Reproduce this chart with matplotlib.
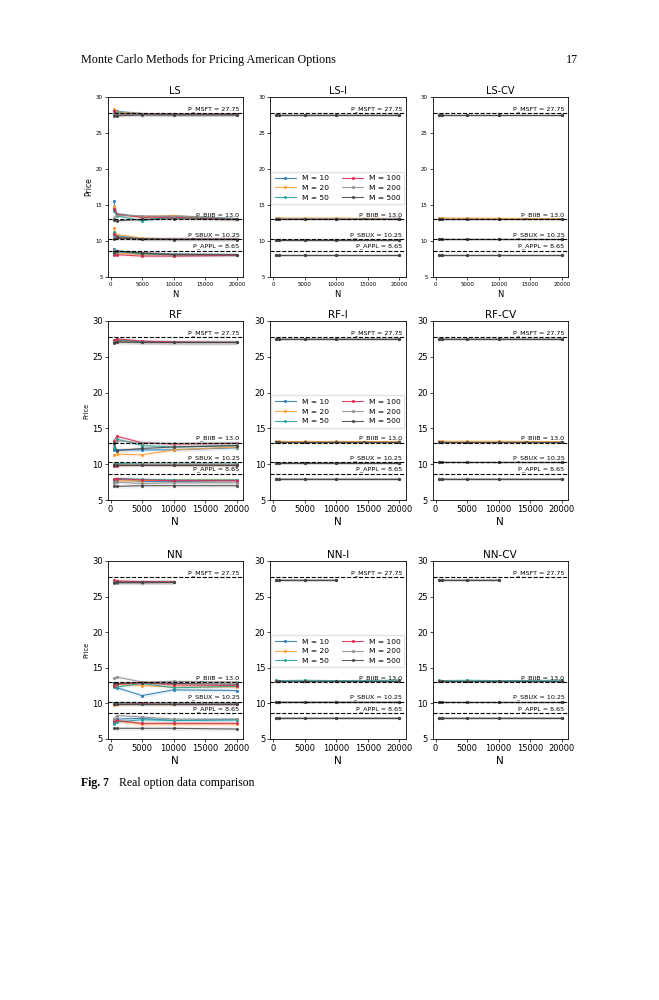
import matplotlib.pyplot as plt
import matplotlib.transforms as mtransforms
import numpy as np

nan = np.nan

N = [500, 1000, 5000, 10000, 20000]
M_values = [10, 20, 50, 100, 200, 500]
stocks = ['MSFT', 'BIIB', 'SBUX', 'APPL']
stock_prices = [27.75, 13.0, 10.25, 8.65]
titles = [['LS', 'LS-I', 'LS-CV'], ['RF', 'RF-I', 'RF-CV'], ['NN', 'NN-I', 'NN-CV']]

# one list per M (10, 20, 50, 100, 200, 500), values at each N
ls = {
    'MSFT': [[28.2, 28.0, 27.7, 27.6, 27.6], [28.3, 27.9, 27.7, 27.6, 27.6],
             [28.0, 27.8, 27.6, 27.6, 27.6], [28.1, 27.6, 27.6, 27.6, 27.6],
             [27.6, 27.5, 27.6, 27.5, 27.5], [27.4, 27.4, 27.5, 27.5, 27.5]],
    'BIIB': [[15.5, 13.8, 13.3, 13.5, 13.1], [14.8, 13.6, 13.4, 13.5, 13.0],
             [14.2, 13.5, 12.8, 13.4, 13.0], [14.5, 13.7, 13.3, 13.3, 13.0],
             [13.2, 13.6, 13.5, 13.4, 13.1], [12.9, 12.8, 13.0, 13.1, 13.0]],
    'SBUX': [[10.8, 10.6, 10.3, 10.3, 10.3], [11.8, 10.9, 10.4, 10.3, 10.3],
             [11.2, 10.7, 10.3, 10.3, 10.25], [11.0, 10.5, 10.3, 10.3, 10.25],
             [10.4, 10.4, 10.3, 10.3, 10.3], [10.3, 10.4, 10.3, 10.2, 10.2]],
    'APPL': [[8.9, 8.6, 8.3, 8.2, 8.1], [8.4, 8.3, 8.1, 8.1, 8.1],
             [8.2, 8.5, 8.2, 8.1, 8.1], [8.0, 8.1, 7.9, 7.9, 8.0],
             [8.7, 8.6, 8.4, 8.2, 8.1], [8.5, 8.6, 8.3, 8.1, 8.1]],
}
ls_i = {
    'MSFT': [[27.5, 27.5, 27.5, 27.5, 27.5]] * 4 + [[27.45, 27.45, 27.45, 27.45, 27.45]] * 2,
    'BIIB': [[13.1, 13.1, 13.1, 13.1, 13.1], [13.25, 13.2, 13.2, 13.2, 13.1],
             [13.1, 13.1, 13.1, 13.1, 13.1], [13.1, 13.1, 13.1, 13.1, 13.1],
             [13.1, 13.1, 13.1, 13.1, 13.15], [13.1, 13.1, 13.1, 13.1, 13.1]],
    'SBUX': [[10.2, 10.2, 10.2, 10.2, 10.2]] * 6,
    'APPL': [[8.0, 8.0, 8.0, 8.0, 8.0]] * 6,
}
ls_cv = {
    'MSFT': [[27.5, 27.5, 27.5, 27.5, 27.5]] * 6,
    'BIIB': [[13.1, 13.1, 13.1, 13.1, 13.1], [13.2, 13.2, 13.2, 13.15, 13.1],
             [13.1, 13.1, 13.1, 13.1, 13.1], [13.1, 13.1, 13.1, 13.1, 13.1],
             [13.1, 13.1, 13.1, 13.1, 13.1], [13.1, 13.1, 13.1, 13.1, 13.1]],
    'SBUX': [[10.25, 10.25, 10.25, 10.25, 10.25]] * 6,
    'APPL': [[8.0, 8.0, 8.0, 8.0, 8.0]] * 6,
}
rf = {
    'MSFT': [[27.1, 27.3, 27.1, 27.0, 27.0], [27.0, 27.2, 27.0, 27.0, 27.0],
             [27.2, 27.4, 27.1, 27.0, 27.0], [27.3, 27.5, 27.2, 27.1, 27.0],
             [27.0, 27.0, 27.0, 27.0, 27.1], [26.9, 27.1, 27.0, 27.0, 27.0]],
    'BIIB': [[12.0, 12.0, 12.0, 12.0, 12.3], [11.3, 11.4, 11.3, 12.0, 12.4],
             [12.3, 13.5, 12.6, 12.4, 12.6], [13.2, 13.9, 13.0, 12.8, 12.9],
             [12.8, 13.3, 13.0, 12.9, 13.0], [13.0, 11.9, 12.2, 12.4, 12.6]],
    'SBUX': [[10.0, 10.0, 10.0, 10.0, 10.0], [9.9, 9.9, 10.0, 9.9, 9.9],
             [10.0, 10.1, 10.0, 10.0, 10.0], [9.8, 9.8, 9.9, 9.9, 9.9],
             [10.0, 10.0, 10.0, 10.0, 10.0], [9.9, 9.9, 9.9, 9.9, 9.9]],
    'APPL': [[7.6, 7.9, 7.6, 7.6, 7.7], [7.5, 7.7, 7.7, 7.8, 7.8],
             [7.8, 8.0, 7.9, 7.8, 7.8], [7.9, 8.0, 7.8, 7.7, 7.7],
             [7.4, 7.5, 7.3, 7.4, 7.4], [6.9, 6.9, 7.0, 7.0, 7.0]],
}
rf_i = {
    'MSFT': [[27.5, 27.5, 27.5, 27.5, 27.5]] * 6,
    'BIIB': [[13.1, 13.1, 13.1, 13.1, 13.1], [13.2, 13.2, 13.2, 13.2, 13.2],
             [13.1, 13.1, 13.1, 13.1, 13.1], [13.1, 13.1, 13.1, 13.1, 13.1],
             [13.1, 13.1, 13.1, 13.1, 13.1], [13.1, 13.1, 13.1, 13.1, 13.1]],
    'SBUX': [[10.2, 10.2, 10.2, 10.2, 10.2]] * 6,
    'APPL': [[8.0, 8.0, 8.0, 8.0, 8.0]] * 6,
}
rf_cv = {
    'MSFT': [[27.5, 27.5, 27.5, 27.5, 27.5]] * 6,
    'BIIB': [[13.1, 13.1, 13.1, 13.1, 13.1], [13.2, 13.2, 13.2, 13.2, 13.15],
             [13.1, 13.1, 13.1, 13.1, 13.1], [13.1, 13.1, 13.1, 13.1, 13.1],
             [13.1, 13.1, 13.1, 13.1, 13.1], [13.1, 13.1, 13.1, 13.1, 13.1]],
    'SBUX': [[10.25, 10.25, 10.25, 10.25, 10.25]] * 6,
    'APPL': [[8.0, 8.0, 8.0, 8.0, 8.0]] * 6,
}
nn = {
    'MSFT': [[27.0, 27.0, 27.0, 27.0, nan], [27.2, 27.1, 27.0, 27.1, nan],
             [27.1, 27.0, 27.1, 27.0, nan], [27.3, 27.2, 27.1, 27.1, nan],
             [27.0, 26.9, 26.9, 27.0, nan], [26.9, 27.0, 27.0, 27.0, nan]],
    'BIIB': [[12.4, 12.2, 11.1, 11.9, 11.8], [12.6, 12.7, 12.5, 12.3, 12.3],
             [12.3, 12.3, 12.8, 12.2, 12.4], [12.5, 12.7, 12.9, 12.6, 12.5],
             [13.5, 13.7, 13.0, 13.1, 13.0], [12.9, 12.8, 12.9, 12.8, 12.7]],
    'SBUX': [[10.0, 10.1, 10.0, 10.0, 10.0], [9.8, 9.9, 9.9, 9.9, 9.9],
             [10.1, 10.0, 10.0, 10.0, 10.0], [9.9, 9.9, 10.0, 9.9, 9.9],
             [10.0, 10.0, 9.9, 10.0, 10.0], [9.9, 9.9, 9.9, 9.9, 9.9]],
    'APPL': [[7.3, 7.8, 7.9, 7.6, 7.7], [7.6, 7.5, 7.1, 7.1, 7.1],
             [7.1, 7.4, 7.7, 7.6, 7.7], [7.5, 7.6, 7.2, 7.2, 7.2],
             [7.8, 8.3, 8.1, 7.8, 7.8], [6.5, 6.5, 6.5, 6.5, 6.4]],
}
nn_i = {
    'MSFT': [[27.4, 27.4, 27.4, 27.4, nan]] * 6,
    'BIIB': [[13.2, 13.2, 13.2, 13.2, 13.2], [13.1, 13.1, 13.1, 13.1, 13.1],
             [13.25, 13.2, 13.25, 13.2, 13.25], [13.1, 13.1, 13.1, 13.1, 13.1],
             [13.1, 13.1, 13.1, 13.1, 13.1], [13.1, 13.1, 13.1, 13.1, 13.1]],
    'SBUX': [[10.2, 10.2, 10.2, 10.2, 10.2]] * 6,
    'APPL': [[8.0, 8.0, 8.0, 8.0, 8.0]] * 6,
}
nn_cv = {
    'MSFT': [[27.4, 27.4, 27.4, 27.4, nan]] * 6,
    'BIIB': [[13.2, 13.2, 13.2, 13.2, 13.2], [13.1, 13.1, 13.1, 13.1, 13.1],
             [13.25, 13.2, 13.25, 13.2, 13.25], [13.1, 13.1, 13.1, 13.1, 13.1],
             [13.1, 13.1, 13.1, 13.1, 13.1], [13.1, 13.1, 13.1, 13.1, 13.1]],
    'SBUX': [[10.2, 10.2, 10.2, 10.2, 10.2]] * 6,
    'APPL': [[8.0, 8.0, 8.0, 8.0, 8.0]] * 6,
}
panels = [[ls, ls_i, ls_cv], [rf, rf_i, rf_cv], [nn, nn_i, nn_cv]]
# rough half-width of the shaded spread band in each panel
band = [[0.25, 0.08, 0.06], [0.3, 0.08, 0.06], [0.3, 0.08, 0.06]]

colors = ['#1f77b4', '#ff9a2e', '#1fa39a', '#d6274d', '#8c8c8c', '#404040']

# pixel layout of the page (659 x 1000)
W, H = 659.0, 1000.0
col_left = [107.5, 270.0, 432.5]
col_width = 135.5
row_top = [97.0, 321.0, 561.0]
row_bot = [277.0, 500.0, 739.0]
tick_size = [3.9, 6.0, 6.0]
title_size = [7.0, 7.5, 7.5]
xlabel_size = [6.0, 7.5, 7.5]
ylabel_size = [5.5, 4.8, 4.8]

fig = plt.figure(figsize=(W / 100, H / 100), dpi=100)

fig.text(81 / W, 1 - 60 / H, 'Monte Carlo Methods for Pricing American Options',
         family='Liberation Serif', fontsize=8.7, va='center', ha='left')
fig.text(578 / W, 1 - 60 / H, '17', family='Liberation Serif', fontsize=8.7,
         va='center', ha='right')
fig.text(81 / W, 1 - 783 / H, 'Fig. 7', family='Liberation Serif', fontsize=8.5,
         weight='bold', va='center', ha='left')
fig.text(119 / W, 1 - 783 / H, 'Real option data comparison', family='Liberation Serif',
         fontsize=8.5, va='center', ha='left')

for r in range(3):
    for c in range(3):
        rect = [col_left[c] / W, 1 - row_bot[r] / H, col_width / W, (row_bot[r] - row_top[r]) / H]
        ax = fig.add_axes(rect)
        data = panels[r][c]
        for s, stock in enumerate(stocks):
            for k, m in enumerate(M_values):
                y = np.array(data[stock][k], dtype=float)
                ax.plot(N, y, color=colors[k], marker='.', ms=2.5, lw=0.8, alpha=0.85,
                        label='M = %d' % m if s == 0 else None)
                ax.fill_between(N, y - band[r][c], y + band[r][c], color=colors[k],
                                alpha=0.08, lw=0)
        trans = mtransforms.blended_transform_factory(ax.transAxes, ax.transData)
        for stock, price in zip(stocks, stock_prices):
            ax.axhline(price, color='black', ls='--', lw=0.8)
            ax.text(0.975, price + 0.2, 'P_%s = %s' % (stock, price), transform=trans,
                    ha='right', va='bottom', fontsize=4.6)
        ax.set_ylim(5, 30)
        ax.set_xticks([0, 5000, 10000, 15000, 20000])
        ax.set_yticks([5, 10, 15, 20, 25, 30])
        ax.tick_params(labelsize=tick_size[r], length=2, width=0.5, pad=1.5)
        for sp in ax.spines.values():
            sp.set_linewidth(0.6)
        ax.set_title(titles[r][c], fontsize=title_size[r], pad=2)
        ax.set_xlabel('N', fontsize=xlabel_size[r], labelpad=2)
        if c == 0:
            ax.set_ylabel('Price', fontsize=ylabel_size[r], labelpad=2)
        if c == 1:
            ax.legend(loc='upper center', bbox_to_anchor=(0.5, 0.605), ncol=2,
                      fontsize=5.4, handlelength=2.8, columnspacing=1.8,
                      borderpad=0.45, labelspacing=0.45, frameon=True, framealpha=0.8,
                      edgecolor='#dddddd', fancybox=True)

fig.savefig('out.png', dpi=100)
